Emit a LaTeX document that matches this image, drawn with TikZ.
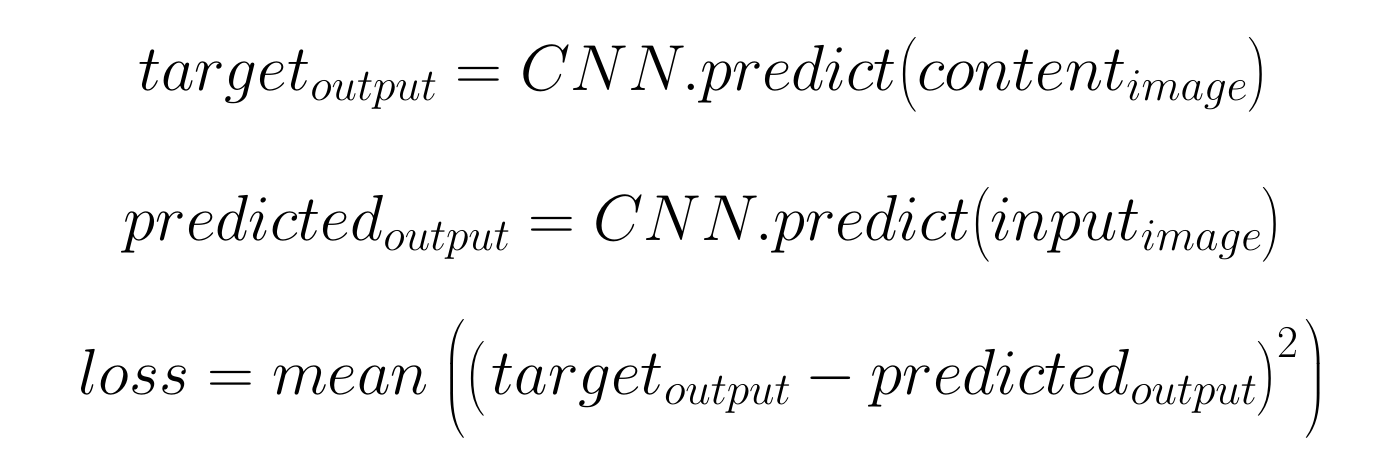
\RequirePackage{fix-cm}
\documentclass[tikz,border=0pt]{standalone}
\usepackage{amsmath}
\begin{document}
\begin{tikzpicture}[x=1pt,y=1pt,eq/.style={anchor=base,inner sep=0pt,font=\fontsize{65}{77}\selectfont}]
\useasboundingbox (0,0) rectangle (1400,466);
\node[eq] (l1) at (703,466-91) {$target_{output} = CNN.predict\bigl(content_{image}\bigr)$};
\node[eq] (l2) at (703,466-241) {$predicted_{output} = CNN.predict\bigl(input_{image}\bigr)$};
\node[eq] (l3) at (703,466-395) {$loss = mean\mkern4mu\Bigl(\bigl(\mkern2mu target_{output} - predicted_{output}\bigr)^2\mkern2mu\Bigr)$};
\end{tikzpicture}
\end{document}
